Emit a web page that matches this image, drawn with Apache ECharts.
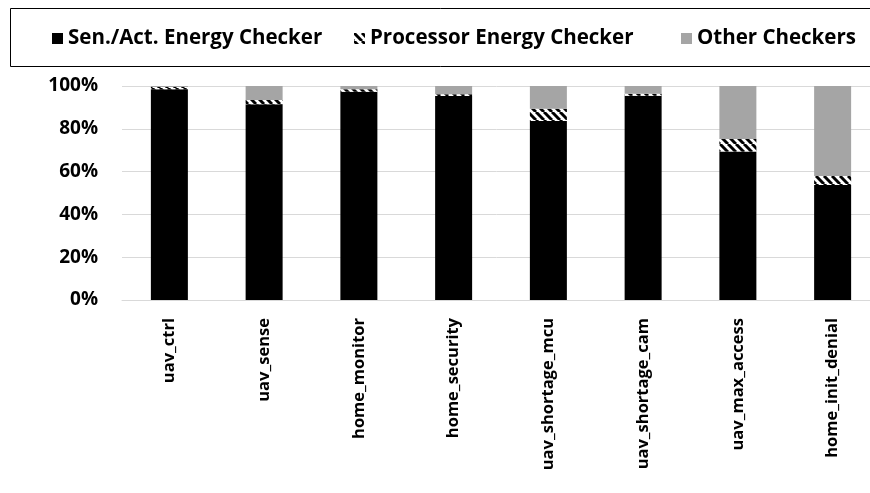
<!DOCTYPE html>
<html><head><meta charset="utf-8">
<script src="https://cdn.jsdelivr.net/npm/echarts@6/dist/echarts.min.js"></script>
<style>html,body{margin:0;padding:0;background:#fff}#c{width:870px;height:493px}</style>
</head><body><div id="c"></div>
<script>
const categories = ['uav_ctrl','uav_sense','home_monitor','home_security','uav_shortage_mcu','uav_shortage_cam','uav_max_access','home_init_denial'];
const senActValues = [98.5, 91.5, 97.3, 95.3, 83.6, 95.5, 69.4, 53.7];
const processorValues = [1.0, 2.0, 1.2, 0.9, 5.8, 0.9, 5.8, 4.3];
const otherValues = [0.5, 6.5, 1.5, 3.8, 10.6, 3.6, 24.8, 42.0];
const seriesNames = ['Sen./Act. Energy Checker', 'Processor Energy Checker', 'Other Checkers'];
const yTicks = [0, 20, 40, 60, 80, 100];

function hatch() {
  const c = document.createElement('canvas');
  c.width = 8; c.height = 8;
  const g = c.getContext('2d');
  g.fillStyle = '#fff'; g.fillRect(0,0,8,8);
  g.strokeStyle = '#000'; g.lineWidth = 3;
  for (const x of [-8, 0, 8]) { g.beginPath(); g.moveTo(x, 0); g.lineTo(x + 8, 8); g.stroke(); }
  return c;
}
const FONT = 'Open Sans';
const legendText = {fontFamily: FONT, fontWeight: 'bold', fontSize: 20.5, color: '#000'};
const legendLefts = [47, 349, 676];
const chart = echarts.init(document.getElementById('c'), null, {renderer: 'canvas'});
chart.setOption({
  animation: false,
  backgroundColor: '#fff',
  graphic: [{type: 'rect', shape: {x: 10.5, y: 8.5, width: 880, height: 58}, style: {fill: 'none', stroke: '#000', lineWidth: 1}}],
  legend: seriesNames.map((n, i) => ({
    left: legendLefts[i], top: 23, itemWidth: 11, itemHeight: 11, itemGap: 4, icon: 'rect',
    textStyle: legendText, data: [n]
  })),
  grid: {left: 122, top: 86, width: 758, height: 214, outerBoundsMode: 'none', containLabel: false},
  xAxis: {
    type: 'category', data: categories,
    axisTick: {show: false},
    axisLine: {lineStyle: {color: '#d9d9d9', width: 1}},
    axisLabel: {rotate: 90, margin: 18, fontFamily: FONT, fontWeight: 'bold', fontSize: 16.5, color: '#000'}
  },
  yAxis: {
    type: 'value', min: yTicks[0], max: yTicks[yTicks.length-1], interval: 20,
    axisLine: {show: false}, axisTick: {show: false},
    splitLine: {lineStyle: {color: '#d9d9d9', width: 1}},
    axisLabel: {margin: 24, formatter: '{value}%', fontFamily: FONT, fontWeight: 'bold', fontSize: 19, color: '#000'}
  },
  series: [
    {name: seriesNames[0], type: 'bar', stack: 'a', barWidth: 37, data: senActValues, itemStyle: {color: '#000'}},
    {name: seriesNames[1], type: 'bar', stack: 'a', barWidth: 37, data: processorValues, itemStyle: {color: {image: hatch(), repeat: 'repeat'}}},
    {name: seriesNames[2], type: 'bar', stack: 'a', barWidth: 37, data: otherValues, itemStyle: {color: '#a5a5a5'}}
  ]
});
</script></body></html>
